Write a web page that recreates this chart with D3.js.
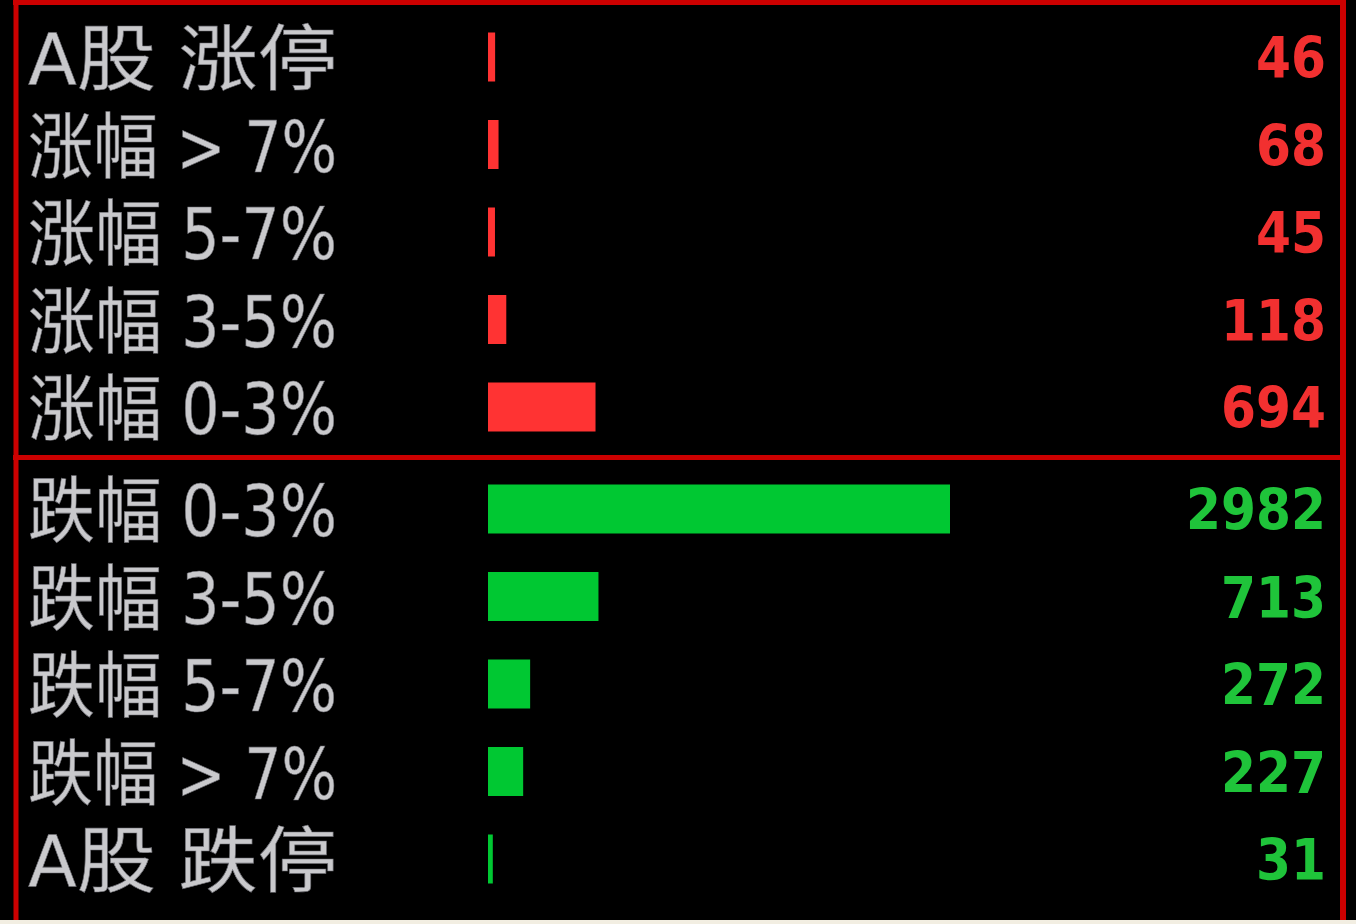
<!DOCTYPE html>
<html>
<head>
<meta charset="utf-8">
<script src="https://cdn.jsdelivr.net/npm/d3@7"></script>
<style>
  html, body { margin: 0; padding: 0; background: #000; overflow: hidden; }
</style>
</head>
<body>
<div id="board"></div>
<script>
// rows of the up / down board
const upLabels = ["A股 涨停", "涨幅 > 7%", "涨幅 5-7%", "涨幅 3-5%", "涨幅 0-3%"];
const upValues = [46, 68, 45, 118, 694];
const downLabels = ["跌幅 0-3%", "跌幅 3-5%", "跌幅 5-7%", "跌幅 > 7%", "A股 跌停"];
const downValues = [2982, 713, 272, 227, 31];

const width = 1356;
const height = 924;

const svg = d3.select("#board")
  .append("svg")
  .attr("width", width)
  .attr("height", height);

svg.append("rect")
  .attr("width", width)
  .attr("height", height)
  .attr("fill", "#000");

// bar length scale, shared by both halves
const xScale = d3.scaleLinear()
  .domain([0, d3.max(downValues.concat(upValues))])
  .range([0, 462]);
const barX = 488;

function drawGroup(labels, values, top, bottom, barColor, textColor) {
  const data = labels.map((l, i) => ({ label: l, value: values[i] }));
  const yScale = d3.scaleBand()
    .domain(labels)
    .range([top, bottom])
    .paddingInner(0.44)
    .paddingOuter(0.22);

  const g = svg.append("g");

  g.selectAll("rect.bar")
    .data(data)
    .enter()
    .append("rect")
    .attr("class", "bar")
    .attr("x", barX)
    .attr("y", d => yScale(d.label))
    .attr("width", d => Math.max(3, xScale(d.value)))
    .attr("height", yScale.bandwidth())
    .attr("fill", barColor);

  g.selectAll("text.label")
    .data(data)
    .enter()
    .append("text")
    .attr("class", "label")
    .attr("x", 28)
    .attr("y", d => yScale(d.label) + yScale.bandwidth() / 2 + 27)
    .attr("textLength", 309)
    .attr("lengthAdjust", "spacingAndGlyphs")
    .style("font-family", "'DejaVu Sans Condensed', 'Noto Sans CJK SC', sans-serif")
    .style("font-size", "72px")
    .style("fill", "#c9c9cc")
    .style("stroke", "#6a6a70")
    .style("stroke-width", "0.6px")
    .text(d => d.label);

  g.selectAll("text.value")
    .data(data)
    .enter()
    .append("text")
    .attr("class", "value")
    .attr("x", 1326)
    .attr("y", d => yScale(d.label) + yScale.bandwidth() / 2 + 21)
    .attr("text-anchor", "end")
    .attr("textLength", d => String(d.value).length * 35)
    .attr("lengthAdjust", "spacingAndGlyphs")
    .style("font-family", "'DejaVu Sans Condensed', 'DejaVu Sans', sans-serif")
    .style("font-weight", "bold")
    .style("font-size", "57px")
    .style("fill", textColor)
    .text(d => d.value);
}

drawGroup(upLabels, upValues, 13.25, 450.75, "#ff3333", "#f23030");
drawGroup(downLabels, downValues, 465.25, 902.75, "#00c832", "#1fc43a");

// red frame and divider
const frame = "#cc0000";
svg.append("line").attr("x1", 13).attr("x2", 1346).attr("y1", 2.5).attr("y2", 2.5)
  .attr("stroke", frame).attr("stroke-width", 5);
svg.append("line").attr("x1", 16).attr("x2", 16).attr("y1", 0).attr("y2", 920)
  .attr("stroke", frame).attr("stroke-width", 5);
svg.append("line").attr("x1", 1343).attr("x2", 1343).attr("y1", 0).attr("y2", 920)
  .attr("stroke", frame).attr("stroke-width", 6);
svg.append("line").attr("x1", 13).attr("x2", 1346).attr("y1", 457.5).attr("y2", 457.5)
  .attr("stroke", frame).attr("stroke-width", 5);

// pale strip along the bottom edge
svg.append("rect")
  .attr("x", 0)
  .attr("y", 920)
  .attr("width", width)
  .attr("height", 4)
  .attr("fill", "#f2eee2");
</script>
</body>
</html>
